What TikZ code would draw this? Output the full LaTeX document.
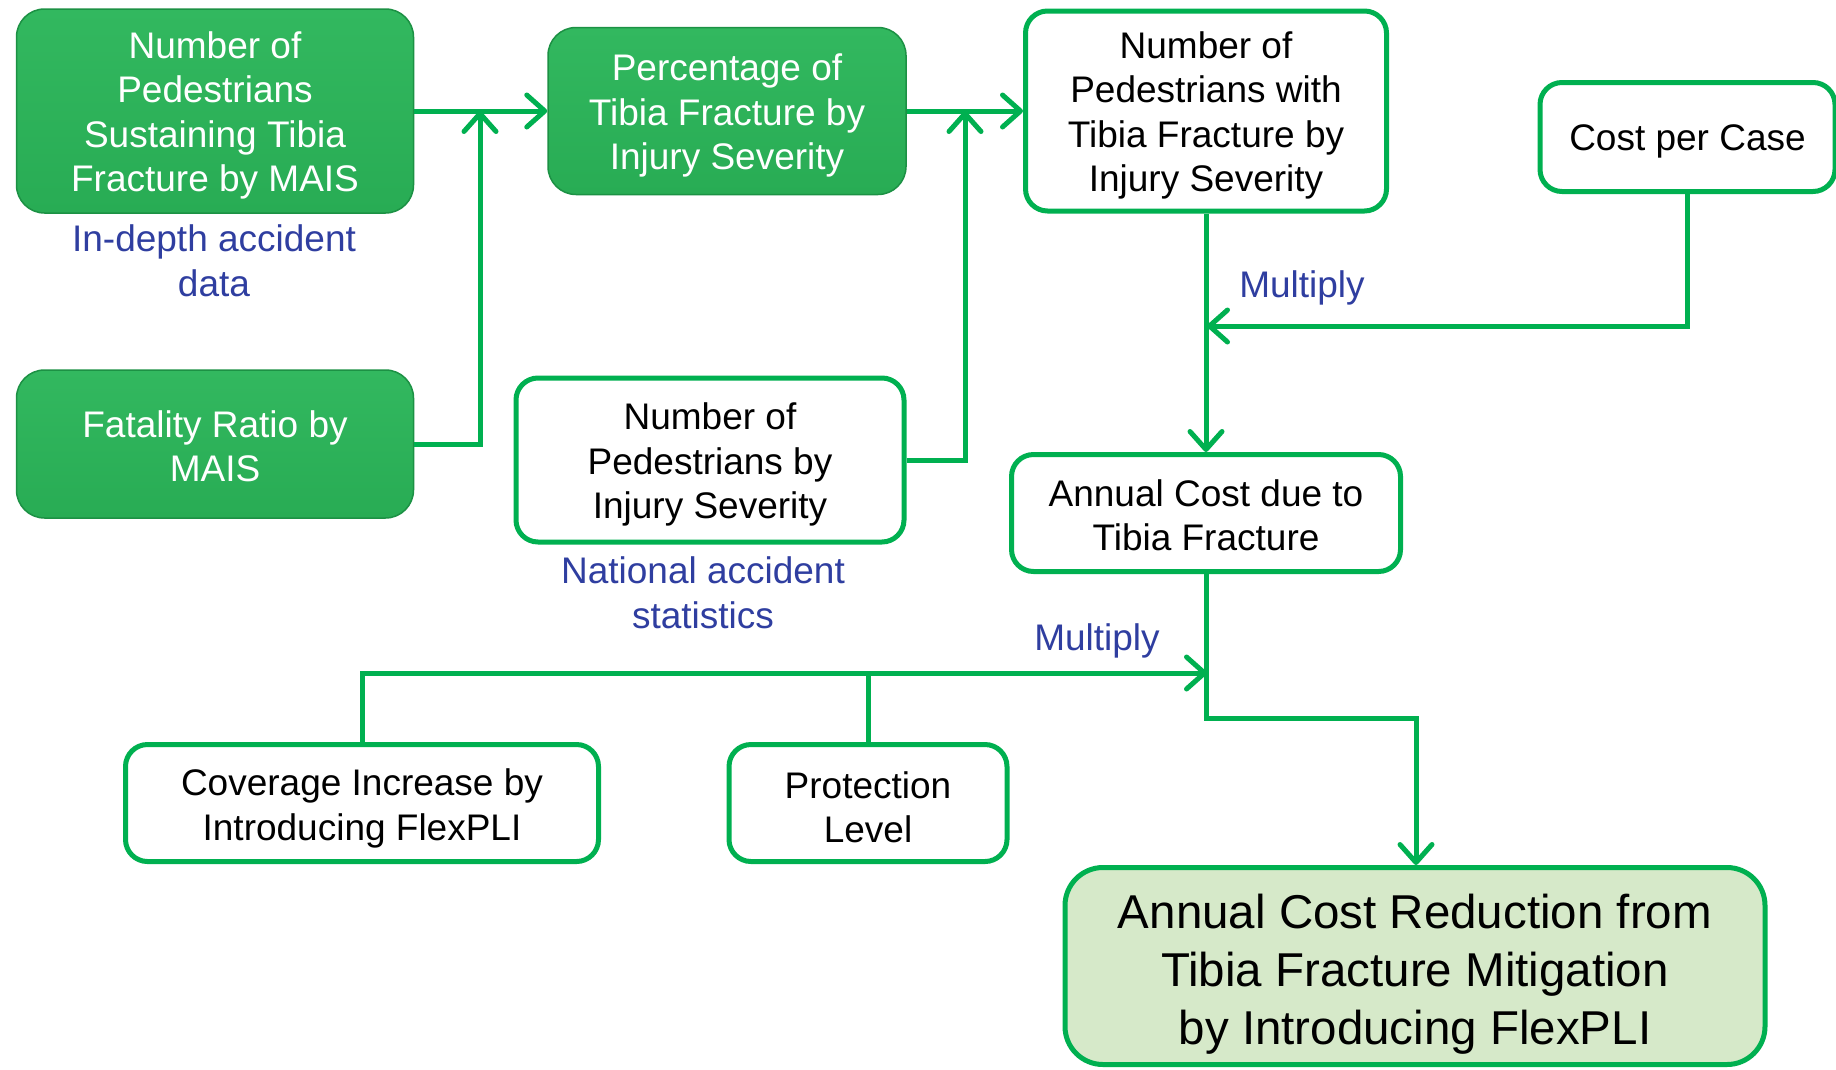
\documentclass[tikz,border=0pt]{standalone}
\usepackage{fontspec}
\setmainfont{Liberation Sans}
\usetikzlibrary{arrows.meta}
\definecolor{lgreen}{RGB}{0,176,80}
\definecolor{gtop}{RGB}{50,184,95}
\definecolor{gbot}{RGB}{40,172,84}
\definecolor{bedge}{RGB}{28,145,68}
\definecolor{jfill}{RGB}{214,233,201}
\definecolor{lblue}{RGB}{47,62,160}
\begin{document}
\begin{tikzpicture}[x=1pt,y=-1pt,
  txt/.style={font=\fontsize{37}{44.5}\selectfont, align=center, inner sep=0pt},
  bigtxt/.style={font=\fontsize{47.5}{58}\selectfont, align=center, inner sep=0pt},
  gbox/.style={rectangle, rounded corners=28pt, top color=gtop, bottom color=gbot, draw=bedge, line width=1.5pt, inner sep=0pt},
  wbox/.style={rectangle, rounded corners=22pt, draw=lgreen, line width=5pt, fill=white, inner sep=0pt},
  gtxt/.style={txt, text=white, yshift=-4.5pt},
  wtxt/.style={txt, text=black, yshift=-4.5pt},
  conn/.style={draw=lgreen, line width=5pt},
  arr/.style={conn, -{Straight Barb[length=18pt,width=32pt,round]}},
  lbl/.style={txt, text=lblue}]
\useasboundingbox (0,0) rectangle (1836,1069);
\fill[white] (0,0) rectangle (1836,1069);

% boxes
\node[gbox, minimum width=397pt, minimum height=204pt] (A) at (215,111) {};
\node[gbox, minimum width=397pt, minimum height=148pt] (B) at (215,444) {};
\node[gbox, minimum width=358pt, minimum height=167pt] (C) at (727,111) {};
\node[wbox, minimum width=361pt, minimum height=200pt] (D) at (1206,111) {};
\node[wbox, minimum width=295pt, minimum height=109pt] (E) at (1687.5,137) {};
\node[wbox, minimum width=388pt, minimum height=164pt] (F) at (710,460) {};
\node[wbox, minimum width=389pt, minimum height=117pt] (G) at (1206,513) {};
\node[wbox, minimum width=473pt, minimum height=117pt] (H) at (362,803) {};
\node[wbox, minimum width=278pt, minimum height=117pt] (I) at (868,803) {};
\node[wbox, fill=jfill, rounded corners=38pt, minimum width=700pt, minimum height=197pt] (J) at (1415,966) {};

% box texts
\node[gtxt] (At) at (A.center) {Number of\\Pedestrians\\Sustaining Tibia\\Fracture by MAIS};
\node[gtxt, yshift=2pt] (Bt) at (B.center) {Fatality Ratio by\\MAIS};
\node[gtxt] (Ct) at (C.center) {Percentage of\\Tibia Fracture by\\Injury Severity};
\node[wtxt] (Dt) at (D.center) {Number of\\Pedestrians with\\Tibia Fracture by\\Injury Severity};
\node[wtxt] (Et) at (E.center) {Cost per Case};
\node[wtxt] (Ft) at (F.center) {Number of\\Pedestrians by\\Injury Severity};
\node[wtxt, yshift=2pt] (Gt) at (G.center) {Annual Cost due to\\Tibia Fracture};
\node[wtxt, yshift=-1pt] (Ht) at (H.center) {Coverage Increase by\\Introducing FlexPLI};
\node[wtxt] (It) at (I.center) {Protection\\Level};
\node[bigtxt, yshift=-8pt] (Jt) at (J.center) {Annual Cost Reduction from\\Tibia Fracture Mitigation\\by Introducing FlexPLI};

% blue labels
\node[lbl] (l1) at (214,261) {In-depth accident\\data};
\node[lbl] (l2) at (703,593) {National accident\\statistics};
\node[lbl] (m1) at (1302,288) {Multiply};
\node[lbl] (m2) at (1097,641) {Multiply};

% junctions
\coordinate (j1) at (480,111);
\coordinate (j2) at (965,111);
\coordinate (j3) at (1207,326);
\coordinate (j4) at (1416,718);
\coordinate (j5) at (1207,673);

% connectors
\draw[arr] (A.east) -- (C.west);
\draw[arr] (B.east) -| (j1);
\draw[arr] (C.east) -- (D.west);
\draw[arr] (F.east) -| (j2);
\draw[arr] (D.south) -- (G.north);
\draw[arr] (E.south) |- (j3);
\draw[arr] (G.south) |- (j4) -- (j4 |- J.north);
\draw[arr] (H.north) |- (j5);
\draw[conn] (I.north) -- (I.north |- j5);
\end{tikzpicture}
\end{document}
